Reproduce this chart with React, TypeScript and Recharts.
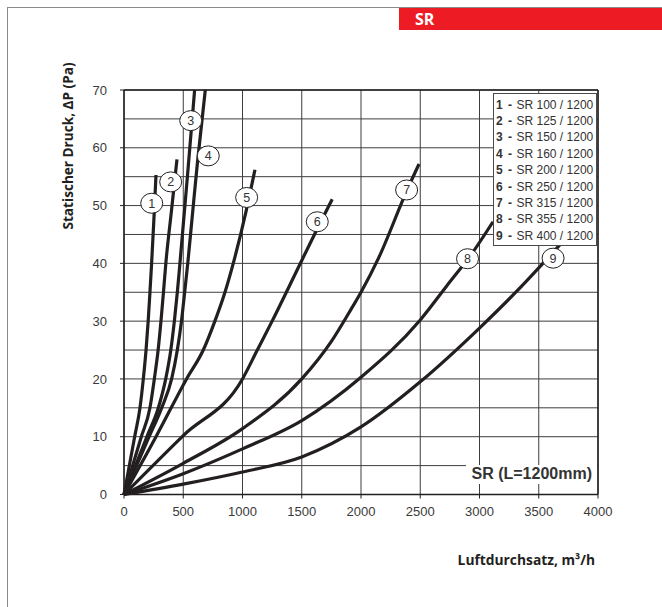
import React from 'react';
import {
  CartesianGrid,
  Legend,
  Line,
  LineChart,
  ReferenceDot,
  ReferenceLine,
  XAxis,
  YAxis,
} from 'recharts';

// Luftdurchsatz [m³/h] / statischer Druck [Pa]
const xTicks = [0, 500, 1000, 1500, 2000, 2500, 3000, 3500, 4000];
const yTicks = [0, 10, 20, 30, 40, 50, 60, 70];
const yGridValues = [0, 5, 10, 15, 20, 25, 30, 35, 40, 45, 50, 55, 60, 65, 70];

const models = [
  'SR 100 / 1200',
  'SR 125 / 1200',
  'SR 150 / 1200',
  'SR 160 / 1200',
  'SR 200 / 1200',
  'SR 250 / 1200',
  'SR 315 / 1200',
  'SR 355 / 1200',
  'SR 400 / 1200',
];

const curve1 = [[0, 0], [90, 10], [135, 15], [163, 20], [186, 25], [204, 30], [219, 35], [233, 40], [252, 47.5], [270, 55.3]];
const curve2 = [[0, 0], [146, 10], [219, 15], [256, 20], [288, 25], [312, 30], [333, 35], [353, 40], [400, 49], [447, 58]];
const curve3 = [[0, 0], [193, 10], [290, 15], [352, 20], [395, 25], [425, 30], [450, 35], [472, 40], [535, 55], [596, 70]];
const curve4 = [[0, 0], [212, 10], [318, 15], [402, 20], [450, 25], [485, 30], [512, 35], [538, 40], [580, 49], [620, 57.5], [686, 70]];
const curve5 = [[0, 0], [270, 10], [528, 20], [669, 25], [767, 30], [852, 35], [922, 40], [1030, 49], [1105, 56.2]];
const curve6 = [[0, 0], [500, 10.2], [1000, 20], [1125, 25], [1250, 30], [1500, 40.5], [1631, 46], [1757, 51.1]];
const curve7 = [[0, 0], [500, 5.4], [1000, 11.4], [1500, 20], [1750, 26.5], [1900, 31.5], [2000, 35], [2150, 41], [2385, 52.5], [2490, 57.2]];
const curve8 = [[0, 0], [500, 3.6], [1000, 7.9], [1500, 12.8], [2000, 20.3], [2500, 30.2], [2720, 36], [2946, 42], [3114, 47.2]];
const curve9 = [[0, 0], [500, 1.8], [1000, 3.9], [1500, 6.5], [2000, 11.7], [2500, 19.5], [3000, 28.8], [3325, 35.4], [3691, 43.5]];

const curves = [curve1, curve2, curve3, curve4, curve5, curve6, curve7, curve8, curve9];

// where the numbered circles sit on each curve
const curveLabels = [
  [234, 50.4],
  [394, 54.1],
  [563, 64.7],
  [711, 58.6],
  [1035, 51.4],
  [1631, 47.2],
  [2385, 52.7],
  [2899, 40.8],
  [3621, 40.9],
];

const ink = '#231f20';
const toPoints = (c: number[][]) => c.map(([x, y]) => ({ x, y }));

const renderYTitle = (props: any) => {
  const { viewBox } = props;
  const cx = viewBox.x + 73;
  const cy = viewBox.y + 56;
  return (
    <text
      x={cx}
      y={cy}
      transform={`rotate(-90 ${cx} ${cy})`}
      textAnchor="middle"
      fontFamily="Open Sans"
      fontWeight={700}
      fontSize={13.6}
      fill={ink}
    >
      Statischer Druck, ΔP (Pa)
    </text>
  );
};

const renderXTitle = (props: any) => {
  const { viewBox } = props;
  return (
    <text
      x={viewBox.x + viewBox.width - 3}
      y={viewBox.y + 70.5}
      textAnchor="end"
      fontFamily="Open Sans"
      fontWeight={700}
      fontSize={13.8}
      fill={ink}
    >
      Luftdurchsatz, m³/h
    </text>
  );
};

const renderLegend = (props: any) => {
  const { payload = [] } = props;
  return (
    <div
      style={{
        border: '1px solid #4a4a4a',
        background: '#fff',
        padding: '3px 0 0 2px',
        height: 148,
        fontFamily: 'Liberation Sans',
        fontSize: 12,
        lineHeight: '16.4px',
        color: '#333',
        whiteSpace: 'nowrap',
      }}
    >
      {payload.map((entry: any) => (
        <div key={entry.value}>
          <span style={{ display: 'inline-block', width: 12, fontWeight: 700 }}>
            {models.indexOf(entry.value) + 1}
          </span>
          <span style={{ display: 'inline-block', width: 8.5, fontWeight: 700 }}>-</span>
          {entry.value}
        </div>
      ))}
    </div>
  );
};

const labelShape = (n: number) => (p: any) => (
  <g>
    <ellipse cx={p.cx} cy={p.cy} rx={11} ry={10} fill="#fff" stroke={ink} strokeWidth={1} />
    <text
      x={p.cx}
      y={p.cy + 4.5}
      textAnchor="middle"
      fontFamily="Liberation Sans"
      fontSize={12.5}
      fill="#333"
    >
      {n}
    </text>
  </g>
);

export default function App() {
  return (
    <div style={{ position: 'relative', width: 662, height: 607, background: '#fff' }}>
      <style>{'body{margin:0}'}</style>
      <div style={{ position: 'absolute', left: 7, top: 6.5, right: 0, height: 1, background: '#8a8a8a' }} />
      <div style={{ position: 'absolute', left: 7, top: 6.5, bottom: 0, width: 1, background: '#8a8a8a' }} />
      <div
        style={{
          position: 'absolute',
          left: 399,
          top: 8,
          width: 263,
          height: 22,
          background: '#ed1c24',
          color: '#fff',
          fontFamily: 'Open Sans',
          fontWeight: 700,
          fontSize: 16,
          lineHeight: '22px',
          paddingLeft: 16,
          boxSizing: 'border-box',
        }}
      >
        SR
      </div>

      <LineChart
        width={662}
        height={607}
        margin={{ top: 90, right: 64, bottom: 0, left: 0 }}
        style={{ position: 'absolute', left: 0, top: 0 }}
      >
        <CartesianGrid
          stroke="#3d3d3d"
          strokeWidth={1}
          horizontalValues={yGridValues}
          verticalValues={xTicks}
        />
        <XAxis
          type="number"
          dataKey="x"
          domain={[0, 4000]}
          ticks={xTicks}
          height={112.5}
          tickSize={4}
          tickMargin={8}
          axisLine={{ stroke: ink, strokeWidth: 1.5 }}
          tickLine={{ stroke: ink }}
          tick={{ fontSize: 13, fill: '#3a3a3a', fontFamily: 'Liberation Sans' }}
          label={renderXTitle}
        />
        <YAxis
          type="number"
          domain={[0, 70]}
          ticks={yTicks}
          width={124}
          tickSize={4}
          tickMargin={13}
          axisLine={{ stroke: ink, strokeWidth: 1.5 }}
          tickLine={{ stroke: ink }}
          tick={{ fontSize: 13, fill: '#3a3a3a', fontFamily: 'Liberation Sans' }}
          label={renderYTitle}
        />
        <ReferenceLine y={70} stroke={ink} strokeWidth={1.5} />
        <ReferenceLine x={4000} stroke={ink} strokeWidth={1.5} />
        {curves.map((c, i) => (
          <Line
            key={models[i]}
            name={models[i]}
            data={toPoints(c)}
            dataKey="y"
            type="monotone"
            stroke={ink}
            strokeWidth={3.2}
            dot={false}
            activeDot={false}
            isAnimationActive={false}
          />
        ))}
        {curveLabels.map(([x, y], i) => (
          <ReferenceDot key={i} x={x} y={y} r={10} shape={labelShape(i + 1)} />
        ))}
        <Legend
          layout="vertical"
          align="center"
          verticalAlign="middle"
          content={renderLegend}
          wrapperStyle={{ left: 493, top: 92.5, width: 104 }}
        />
      </LineChart>

      <div
        style={{
          position: 'absolute',
          left: 466,
          top: 465,
          width: 131,
          height: 18.5,
          background: '#fff',
          fontFamily: 'Liberation Sans',
          fontWeight: 700,
          fontSize: 16,
          lineHeight: '18.5px',
          paddingLeft: 5.5,
          boxSizing: 'border-box',
          color: '#333',
          whiteSpace: 'nowrap',
        }}
      >
        SR (L=1200mm)
      </div>
    </div>
  );
}
